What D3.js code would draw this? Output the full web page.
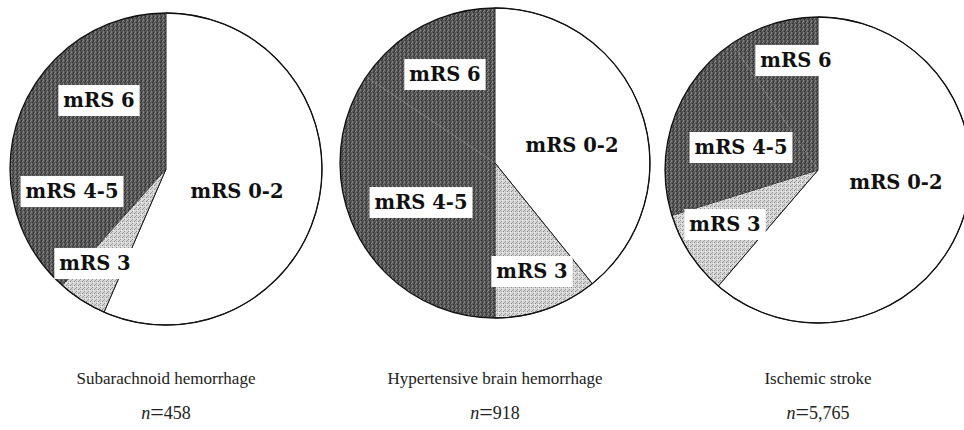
<!DOCTYPE html>
<html>
<head>
<meta charset="utf-8">
<script src="https://cdn.jsdelivr.net/npm/d3@7"></script>
<style>
  body { margin: 0; background: #fff; }
  svg { display: block; }
</style>
</head>
<body>
<div id="svg-area"></div>
<script>
// define dimensions of svg container
var svgWidth = 964;
var svgHeight = 430;

// chart data (percent of patients, clockwise from 12 o'clock)
var categories = ["mRS 0-2", "mRS 3", "mRS 4-5", "mRS 6"];
var groups = ["Subarachnoid hemorrhage", "Hypertensive brain hemorrhage", "Ischemic stroke"];
var counts = ["458", "918", "5,765"];
var sahValues = [56.5, 5.1, 13.4, 25.0];
var hbhValues = [39.2, 10.8, 34.4, 15.6];
var isValues = [61.3, 8.9, 20.3, 9.5];
var seriesValues = [sahValues, hbhValues, isValues];

// layout of each pie: centre and radius
var pieLayout = [
    { cx: 166, cy: 169, r: 156 },
    { cx: 495, cy: 163, r: 155 },
    { cx: 818, cy: 170, r: 153 }
];

// label offsets from pie centre, one row per pie, one pair per category
var labelOffsets = [
    [[71, 22], [-71, 94], [-94, 22], [-67, -69]],
    [[77, -18], [37, 108], [-74, 39], [-50, -89]],
    [[78, 12], [-93, 54], [-77, -23], [-22, -110]]
];

var fills = ["#ffffff", "url(#lightDots)", "url(#darkDots)", "url(#darkDots)"];

var svg = d3.select("#svg-area").append("svg")
    .attr("width", svgWidth)
    .attr("height", svgHeight);

// stipple textures
var defs = svg.append("defs");

function stipple(id, base, dots) {
    var p = defs.append("pattern")
        .attr("id", id)
        .attr("patternUnits", "userSpaceOnUse")
        .attr("width", 4)
        .attr("height", 4);
    p.append("rect").attr("width", 4).attr("height", 4).attr("fill", base);
    dots.forEach(function (d) {
        p.append("rect")
            .attr("x", d[0]).attr("y", d[1])
            .attr("width", 1).attr("height", 1)
            .attr("fill", d[2]);
    });
}

stipple("darkDots", "#575757", [
    [0, 0, "#8a8a8a"], [2, 1, "#2e2e2e"], [1, 2, "#7a7a7a"], [3, 3, "#303030"],
    [3, 0, "#3a3a3a"], [1, 3, "#888888"]
]);
stipple("lightDots", "#d8d8d8", [
    [0, 0, "#858585"], [2, 2, "#949494"], [3, 1, "#f0f0f0"], [1, 3, "#a0a0a0"],
    [2, 0, "#b8b8b8"]
]);

var pie = d3.pie().sort(null).value(function (d) { return d; });

pieLayout.forEach(function (lay, i) {
    var g = svg.append("g")
        .attr("transform", `translate(${lay.cx}, ${lay.cy})`);

    var arc = d3.arc().innerRadius(0).outerRadius(lay.r);
    var arcs = pie(seriesValues[i]);

    g.selectAll("path.slice")
        .data(arcs)
        .enter()
        .append("path")
        .attr("class", "slice")
        .attr("d", arc)
        .attr("fill", function (d, j) { return fills[j]; })
        .attr("stroke", "#1a1a1a")
        .attr("stroke-width", function (d, j) { return j >= 2 ? 0 : 1; });

    // outer rim
    g.append("circle")
        .attr("r", lay.r)
        .attr("fill", "none")
        .attr("stroke", "#111")
        .attr("stroke-width", 1.3);

    // slice labels, boxed where they sit on a shaded slice
    categories.forEach(function (c, j) {
        var off = labelOffsets[i][j];
        var lg = g.append("g")
            .attr("transform", `translate(${off[0]}, ${off[1]})`);
        var box = lg.append("rect").attr("fill", "#fff");
        var t = lg.append("text")
            .attr("text-anchor", "middle")
            .attr("dy", "0.36em")
            .attr("font-family", "'DejaVu Serif', serif")
            .attr("font-weight", "bold")
            .attr("font-size", "19.5px")
            .attr("fill", "#111")
            .text(c);
        if (j > 0) {
            var bb = t.node().getBBox();
            box.attr("x", bb.x - 5)
                .attr("y", bb.y - 4)
                .attr("width", bb.width + 10)
                .attr("height", bb.height + 8);
        }
    });

    // group name and sample size
    var labelGroup = svg.append("g")
        .attr("transform", `translate(${lay.cx}, 0)`)
        .attr("font-family", "'Liberation Serif', 'Times New Roman', serif")
        .attr("font-size", "17px")
        .attr("fill", "#222")
        .attr("text-anchor", "middle");

    labelGroup.append("text")
        .attr("y", 384)
        .text(groups[i]);

    var nText = labelGroup.append("text")
        .attr("y", 419)
        .attr("font-size", "18px");
    nText.append("tspan")
        .attr("font-style", "italic")
        .text("n");
    nText.append("tspan")
        .attr("font-size", "24px")
        .attr("dy", 1)
        .text("=");
    nText.append("tspan")
        .attr("dy", -1)
        .text(counts[i]);
});
</script>
</body>
</html>
